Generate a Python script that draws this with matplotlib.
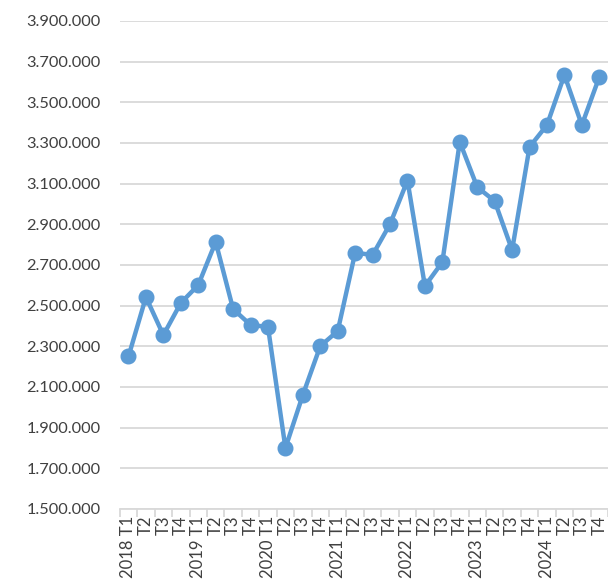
import matplotlib.pyplot as plt
from matplotlib.ticker import FuncFormatter, FixedLocator

years = ["2018", "2019", "2020", "2021", "2022", "2023", "2024"]
quarters = ["T1", "T2", "T3", "T4"]
values = [
    2250000, 2542000, 2355000, 2513000,
    2601000, 2813000, 2483000, 2405000,
    2395000, 1800000, 2061000, 2301000,
    2375000, 2760000, 2749000, 2901000,
    3115000, 2596000, 2714000, 3305000,
    3083000, 3014000, 2773000, 3280000,
    3388000, 3634000, 3388000, 3624000,
]

# multi-level style labels: year only on the first quarter
labels = []
for y in years:
    for q in quarters:
        labels.append(f"{y} {q}" if q == "T1" else q)

blue = "#5B9BD5"
plt.rcParams["font.family"] = ["Lato", "DejaVu Sans"]

fig = plt.figure(figsize=(6.08, 5.81), dpi=100)
ax = fig.add_axes([0.197, 0.124, 0.803, 0.840])

x = list(range(len(values)))
ax.plot(x, values, color=blue, linewidth=3.2, marker="o", markersize=10.5,
        solid_joinstyle="round", clip_on=False, zorder=3)

ax.set_ylim(1500000, 3900000)
ax.set_yticks(range(1500000, 3900001, 200000))
ax.yaxis.set_major_formatter(FuncFormatter(lambda v, p: f"{int(v):,}".replace(",", ".")))
ax.grid(axis="y", color="#D9D9D9", linewidth=1.3)
ax.set_axisbelow(True)

ax.set_xlim(-0.5, len(values) - 0.5)
ax.set_xticks(x)
ax.set_xticklabels(labels, rotation=90, va="top", ha="center")
ax.xaxis.set_minor_locator(FixedLocator([i - 0.5 for i in range(len(values) + 1)]))
ax.tick_params(axis="x", which="major", length=0, pad=5, labelsize=12, colors="#404040")
ax.tick_params(axis="x", which="minor", length=6, width=1.3, color="#D9D9D9")
ax.tick_params(axis="y", length=0, pad=14, labelsize=11.8, colors="#404040")

for side in ["top", "right", "left"]:
    ax.spines[side].set_visible(False)
ax.spines["bottom"].set_color("#D9D9D9")
ax.spines["bottom"].set_linewidth(1.3)

fig.savefig("out.png", dpi=100)
